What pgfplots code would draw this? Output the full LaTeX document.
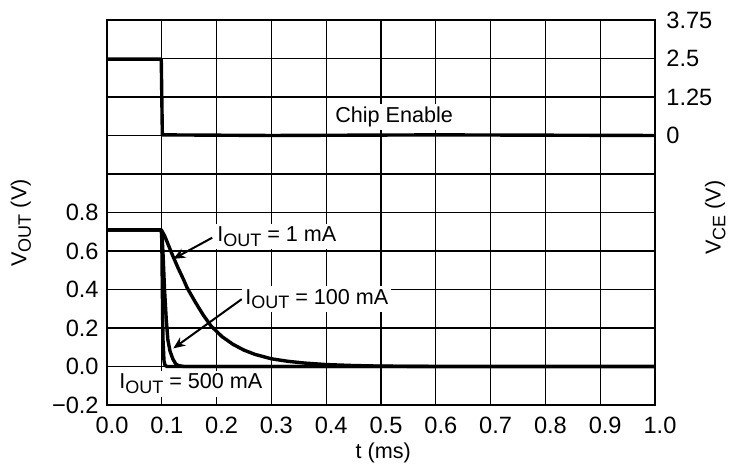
\documentclass[border=0pt]{standalone}
\usepackage{fontspec}
\setmainfont{Liberation Sans}
\usepackage{pgfplots}
\pgfplotsset{compat=1.18}
\usetikzlibrary{arrows.meta}
\newcommand{\sub}[1]{\raisebox{-0.4ex}{\fontsize{9}{10}\selectfont #1}}
\begin{document}
\begin{tikzpicture}[font=\fontsize{10.8}{12.5}\selectfont]
\useasboundingbox (-53.5pt,-30pt) rectangle (312.5pt,202.5pt);
\begin{axis}[
  at={(0,0)}, anchor=south west,
  scale only axis, width=274pt, height=192.5pt,
  xmin=0, xmax=1, ymin=-0.2, ymax=1.8,
  xtick={0,0.1,...,1.0},
  xticklabels={0.0,0.1,0.2,0.3,0.4,0.5,0.6,0.7,0.8,0.9,1.0},
  ytick={-0.2,0,0.2,0.4,0.6,0.8,1.0,1.2,1.4,1.6,1.8},
  yticklabels={−0.2,0.0,0.2,0.4,0.6,0.8,,,,,},
  ytick pos=left, xtick pos=bottom,
  major tick length=0pt,
  grid=major,
  grid style={black, line width=0.55pt},
  axis line style={black, line width=1.1pt},
  tick label style={font=\fontsize{11.8}{13}\selectfont},
  xticklabel style={anchor=north, yshift=-6pt, xshift=2.5pt, inner sep=0pt},
  yticklabel style={anchor=east, xshift=-4pt, inner sep=0pt},
  xlabel={t (ms)},
  xlabel style={at={(axis description cs:0.504,-0.124)}, anchor=center},
  ylabel={V\sub{OUT} (V)},
  ylabel style={at={(axis description cs:-0.157,0.473)}, anchor=center},
  clip=false,
]
% I_OUT = 1 mA
\addplot[black, line width=1.7pt, line join=round] coordinates {
 (0,0.71) (0.099,0.71) (0.1,0.705) (0.105,0.68) (0.11,0.645) (0.115,0.61) (0.12,0.575)
 (0.13,0.51) (0.14,0.45) (0.146,0.41) (0.16,0.34) (0.175,0.27) (0.19,0.21)
 (0.21,0.155) (0.23,0.115) (0.25,0.085) (0.27,0.063) (0.3,0.04) (0.33,0.027)
 (0.36,0.018) (0.4,0.01) (0.45,0.005) (0.5,0.002) (0.6,0.0) (1.0,0.0)};
% I_OUT = 100 mA
\addplot[black, line width=1.7pt, line join=round] coordinates {
 (0,0.71) (0.099,0.71) (0.1,0.70) (0.102,0.6) (0.105,0.4) (0.108,0.25) (0.111,0.14)
 (0.115,0.08) (0.12,0.04) (0.125,0.015) (0.13,0.005) (0.14,0.0) (1.0,0.0)};
% I_OUT = 500 mA
\addplot[black, line width=1.7pt, line join=round] coordinates {
 (0,0.71) (0.099,0.71) (0.1,0.66) (0.101,0.4) (0.102,0.15) (0.104,0.03)
 (0.106,0.005) (0.11,0.0) (1.0,0.0)};
\draw[black, line width=1pt, -{Stealth[length=6pt,width=5pt]}] (axis cs:0.192,0.669) -- (axis cs:0.121,0.559);
\draw[black, line width=1pt, -{Stealth[length=6pt,width=5pt]}] (axis cs:0.246,0.35) -- (axis cs:0.121,0.094);
\node[fill=white, inner sep=1.5pt] at (axis cs:0.31,0.675) {I\sub{OUT} = 1 mA};
\node[fill=white, inner sep=1.5pt] at (axis cs:0.383,0.35) {I\sub{OUT} = 100 mA};
\node[fill=white, inner sep=1.5pt] at (axis cs:0.153,-0.089) {I\sub{OUT} = 500 mA};
\node[fill=white, inner sep=1.5pt] at (axis cs:0.524,1.297) {Chip Enable};
\end{axis}
\begin{axis}[
  at={(0,0)}, anchor=south west,
  scale only axis, width=274pt, height=192.5pt,
  xmin=0, xmax=1, ymin=-8.75, ymax=3.75,
  hide x axis,
  axis y line*=right,
  ytick={0,1.25,2.5,3.75},
  yticklabels={0,1.25,2.5,3.75},
  major tick length=0pt,
  axis line style={black, line width=1.1pt},
  tick label style={font=\fontsize{11.8}{13}\selectfont},
  yticklabel style={anchor=west, xshift=5.5pt, inner sep=0pt},
  ylabel={V\sub{CE} (V)},
  ylabel style={at={(axis description cs:1.11,0.486)}, anchor=center},
  clip=false,
]
\addplot[black, line width=1.7pt, line join=round] coordinates {
 (0,2.48) (0.099,2.48) (0.101,0.02) (0.3,0.0) (0.6,0.02) (1.0,0.0)};
\end{axis}
\end{tikzpicture}
\end{document}
